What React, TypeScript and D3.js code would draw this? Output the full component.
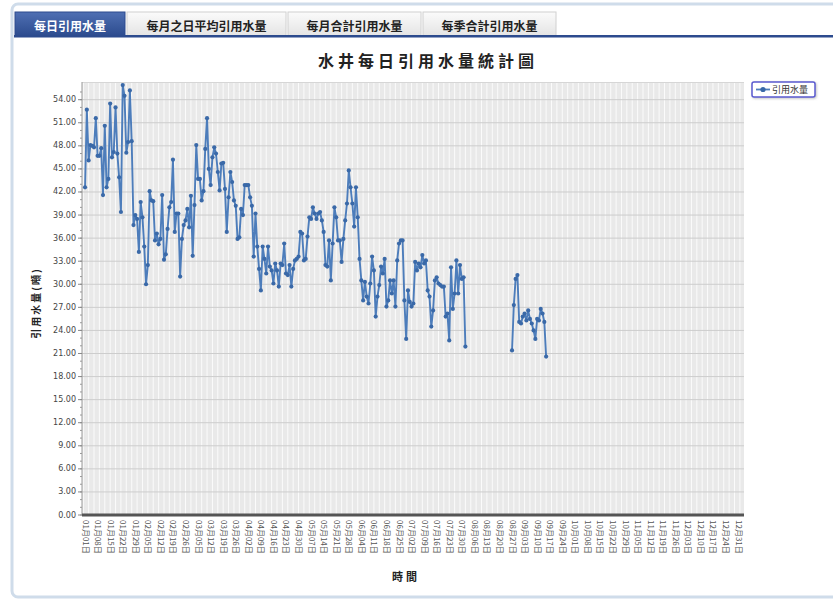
import React from "react";
import * as d3 from "d3";

const tabLabels = ["每日引用水量", "每月之日平均引用水量", "每月合計引用水量", "每季合計引用水量"];
const chartTitle = "水井每日引用水量統計圖";
const yAxisTitle = "引用水量(噸)";
const xAxisTitle = "時間";
const seriesName = "引用水量";

const yTickValues = [0, 3, 6, 9, 12, 15, 18, 21, 24, 27, 30, 33, 36, 39, 42, 45, 48, 51, 54];

const xTickLabels = [
  "01月01日", "01月08日", "01月15日", "01月22日", "01月29日", "02月05日", "02月12日", "02月19日", "02月26日",
  "03月05日", "03月12日", "03月19日", "03月26日", "04月02日", "04月09日", "04月16日", "04月23日", "04月30日",
  "05月07日", "05月14日", "05月21日", "05月28日", "06月04日", "06月11日", "06月18日", "06月25日", "07月02日",
  "07月09日", "07月16日", "07月23日", "07月30日", "08月06日", "08月13日", "08月20日", "08月27日", "09月03日",
  "09月10日", "09月17日", "09月24日", "10月01日", "10月08日", "10月15日", "10月22日", "10月29日", "11月05日",
  "11月12日", "11月19日", "11月26日", "12月03日", "12月10日", "12月17日", "12月24日", "12月31日",
];

// daily values from Jan 1 (day 0) to Aug 1 (day 212)
const springSummerValues = [
  42.6, 52.7, 46.1, 48.1, 48.0, 47.8, 51.6, 46.7, 46.7, 47.7,
  41.6, 50.6, 42.6, 43.7, 53.5, 46.5, 47.2, 53.0, 47.0, 43.9,
  39.4, 55.9, 54.5, 47.1, 48.5, 55.2, 48.6, 37.7, 39.0, 38.5,
  34.2, 40.7, 38.7, 34.9, 30.0, 32.5, 42.1, 40.9, 40.8, 35.7,
  36.6, 35.2, 35.9, 41.6, 33.2, 33.9, 37.2, 40.0, 40.7, 46.2,
  36.8, 39.2, 39.2, 31.0, 35.9, 37.7, 38.3, 39.8, 37.4, 41.5,
  33.7, 40.3, 48.1, 43.7, 43.7, 40.9, 42.1, 47.6, 51.6, 45.0,
  42.9, 46.5, 47.8, 47.0, 44.6, 42.2, 45.7, 45.8, 42.4, 36.8,
  41.3, 44.6, 43.3, 40.9, 40.2, 35.9, 36.1, 39.8, 39.0, 42.9,
  42.9, 42.9, 41.3, 40.2, 33.6, 39.2, 34.9, 32.0, 29.2, 34.9,
  33.3, 31.4, 34.9,
  32.3, 31.8, 30.1, 32.7, 31.8, 29.7, 32.7, 32.5, 35.3, 31.4,
  31.2, 32.5, 29.7, 32.0, 33.1, 33.3, 33.6, 36.8, 36.6, 33.1,
  33.3, 36.2, 38.7, 38.5, 40.0, 39.2, 38.5, 39.2, 39.4, 38.3,
  36.8, 32.5, 32.3, 35.7, 30.5, 35.3, 40.0, 38.7, 35.7, 35.7,
  32.9, 35.9, 38.3, 40.5, 44.8, 42.6, 40.5, 37.5, 42.6, 38.7,
  33.3, 30.5, 27.9, 30.3, 28.4, 27.5, 30.1, 33.6, 31.8, 25.8,
  28.4, 29.9, 32.3, 31.4, 33.3, 27.1, 27.9,
  30.5, 28.8, 30.5, 27.1, 33.1, 35.3, 35.7, 35.7, 27.9, 22.9,
  29.2, 27.7, 27.1, 27.5, 32.9, 31.8, 32.7, 32.2, 33.8, 32.7,
  33.1, 29.2, 28.4, 24.5, 26.6, 30.5, 30.9, 30.1, 29.9, 29.7,
  29.7, 25.8, 26.2, 22.7, 32.2, 26.8, 28.8, 33.1, 28.8, 32.5,
  30.7, 30.9, 21.9,
];
const missingDayCount = 25;
// daily values from Aug 27 (day 238)
const lateSummerValues = [
  21.4, 27.3, 30.7, 31.2, 25.1, 24.9, 25.8, 26.2, 25.3, 26.6,
  25.5, 24.9, 24.0, 22.9, 25.5, 25.3, 26.8, 26.2, 25.1, 20.6,
];

const dailyValues: (number | null)[] = [
  ...springSummerValues,
  ...new Array(missingDayCount).fill(null),
  ...lateSummerValues,
];

const CJK = "'Noto Sans CJK TC', 'Noto Sans CJK SC', sans-serif";

export default function App() {
  const W = 833;
  const H = 600;
  const plot = { left: 82, right: 744, top: 82, bottom: 515 };
  const x = d3.scaleLinear().domain([-1.7, 367.3]).range([plot.left, plot.right]);
  const y = d3.scaleLinear().domain([0, 56.3]).range([plot.bottom, plot.top]);

  const points = dailyValues.map((v, i) => ({ day: i, v }));
  const line = d3
    .line<{ day: number; v: number | null }>()
    .defined((d) => d.v !== null)
    .x((d) => x(d.day))
    .y((d) => y(d.v as number));

  const vGrid = d3.range(-1, 367, 3);
  const minorY = d3.range(0, 56, 1);

  const tabX = [15, 127, 288, 423];
  const tabW = [110, 159, 133, 133];
  const lineColor = "#4d7dbb";
  const markerColor = "#3a69a8";

  return (
    <svg width={W} height={H} style={{ position: "absolute", left: 0, top: 0, background: "#fff" }}>
      <defs>
        <linearGradient id="tabActive" x1="0" y1="0" x2="0" y2="1">
          <stop offset="0" stopColor="#4f6fb3" />
          <stop offset="1" stopColor="#2c4b8e" />
        </linearGradient>
        <linearGradient id="tabIdle" x1="0" y1="0" x2="0" y2="1">
          <stop offset="0" stopColor="#fbfbfb" />
          <stop offset="1" stopColor="#e4e4e4" />
        </linearGradient>
        <filter id="sh" x="-20%" y="-20%" width="150%" height="160%">
          <feDropShadow dx="1" dy="1" stdDeviation="1" floodColor="#888" floodOpacity="0.5" />
        </filter>
      </defs>

      <rect x={12} y={4} width={840} height={593} rx={6} fill="#fff" stroke="#cfdcea" strokeWidth={3} />

      {tabLabels.map((t, i) => (
        <g key={t}>
          <rect
            x={tabX[i]}
            y={12}
            width={tabW[i]}
            height={24}
            fill={i === 0 ? "url(#tabActive)" : "url(#tabIdle)"}
            stroke={i === 0 ? "#2c4b8e" : "#d0d0d0"}
            strokeWidth={1}
          />
          <text
            x={tabX[i] + tabW[i] / 2}
            y={25}
            textAnchor="middle"
            dominantBaseline="central"
            fontFamily={CJK}
            fontWeight="bold"
            fontSize={12}
            fill={i === 0 ? "#fff" : "#222"}
          >
            {t}
          </text>
        </g>
      ))}
      <rect x={14} y={35} width={W - 14} height={2.5} fill="#2c4b8e" />

      <text
        x={428}
        y={60}
        textAnchor="middle"
        dominantBaseline="central"
        fontFamily={CJK}
        fontWeight="bold"
        fontSize={16}
        letterSpacing={4}
        fill="#222"
      >
        {chartTitle}
      </text>

      <rect x={plot.left} y={plot.top} width={plot.right - plot.left} height={plot.bottom - plot.top} fill="#e9e9e9" />
      {vGrid.map((d) => (
        <line key={"v" + d} x1={x(d)} x2={x(d)} y1={plot.top} y2={plot.bottom} stroke="#fbfbfb" strokeWidth={1} />
      ))}
      {yTickValues.map((t) => (
        <line key={"h" + t} x1={plot.left} x2={plot.right} y1={y(t)} y2={y(t)} stroke="#cdcdcd" strokeWidth={1} />
      ))}
      <line x1={plot.left} x2={plot.right} y1={plot.top + 0.5} y2={plot.top + 0.5} stroke="#d6d6d6" />

      <line x1={plot.left} x2={plot.left} y1={plot.top} y2={plot.bottom} stroke="#999" strokeWidth={1} />
      {minorY.map((t) => (
        <line key={"m" + t} x1={plot.left - 2} x2={plot.left} y1={y(t)} y2={y(t)} stroke="#999" strokeWidth={1} />
      ))}
      {yTickValues.map((t) => (
        <g key={"yt" + t}>
          <line x1={plot.left - 4} x2={plot.left} y1={y(t)} y2={y(t)} stroke="#888" />
          <text
            x={plot.left - 6}
            y={y(t)}
            textAnchor="end"
            dominantBaseline="central"
            fontFamily="'DejaVu Sans', Verdana, sans-serif"
            fontSize={8}
            fill="#444"
          >
            {t.toFixed(2)}
          </text>
        </g>
      ))}

      <rect x={plot.left} y={plot.bottom - 1.5} width={plot.right - plot.left} height={3} fill="#555" />
      {xTickLabels.map((lab, i) => (
        <text
          key={lab}
          transform={`translate(${x(i * 7) + 1},${plot.bottom + 5}) rotate(90)`}
          dominantBaseline="central"
          fontFamily={CJK}
          fontSize={8}
          fill="#555"
        >
          {lab}
        </text>
      ))}

      <text
        transform={`translate(35,303) rotate(-90)`}
        textAnchor="middle"
        dominantBaseline="central"
        fontFamily={CJK}
        fontWeight="bold"
        fontSize={10}
        letterSpacing={2}
        fill="#222"
      >
        {yAxisTitle}
      </text>
      <text
        x={406}
        y={576}
        textAnchor="middle"
        dominantBaseline="central"
        fontFamily={CJK}
        fontWeight="bold"
        fontSize={11}
        letterSpacing={3}
        fill="#222"
      >
        {xAxisTitle}
      </text>

      <path d={line(points) || ""} fill="none" stroke={lineColor} strokeWidth={1.9} strokeLinejoin="round" />
      {points
        .filter((p) => p.v !== null)
        .map((p) => (
          <circle key={"p" + p.day} cx={x(p.day)} cy={y(p.v as number)} r={2.1} fill={markerColor} />
        ))}

      <g filter="url(#sh)">
        <rect x={752} y={82} width={63} height={15} rx={2} fill="#fff" stroke="#5a5ad0" strokeWidth={1.5} />
      </g>
      <line x1={756} x2={770} y1={89.5} y2={89.5} stroke={lineColor} strokeWidth={1.8} />
      <circle cx={763} cy={89.5} r={2.6} fill={markerColor} />
      <text x={772} y={89.5} dominantBaseline="central" fontFamily={CJK} fontSize={9} fill="#333">
        {seriesName}
      </text>
    </svg>
  );
}
